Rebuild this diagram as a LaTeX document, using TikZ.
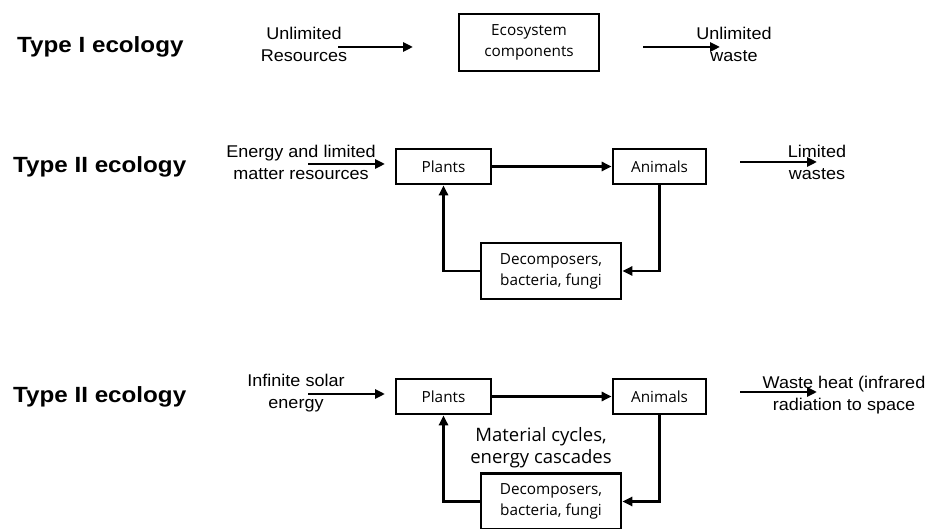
\documentclass[tikz,border=0pt]{standalone}
\usepackage{fontspec}
\usetikzlibrary{arrows.meta}
\newfontfamily\labelfont[FakeStretch=1.06]{Liberation Sans}
\newfontfamily\titlefont[FakeStretch=1.1]{Liberation Sans}
\newfontfamily\boxfont{Open Sans}
\begin{document}
\begin{tikzpicture}[x=1pt,y=-1pt,
  heading/.style={font=\titlefont\bfseries\fontsize{22}{26}\selectfont, anchor=base west, inner sep=0pt},
  flowlabel/.style={font=\labelfont\fontsize{17}{22}\selectfont, align=center, anchor=base, inner sep=0pt},
  boxtext/.style={font=\boxfont\fontsize{15.3}{21}\selectfont, align=center, inner sep=0pt},
  cyclenote/.style={font=\boxfont\fontsize{18.5}{22}\selectfont, align=center, anchor=base, inner sep=0pt},
  stage/.style={draw, line width=2.6pt, fill=white, boxtext},
  flow/.style={line width=2.6pt, -{Triangle[length=10pt,width=9pt]}}
]
\useasboundingbox (0,0) rectangle (930,529);
\clip (0,0) rectangle (930,529);

% ---------- Type I ----------
% (multi-line labels are placed by the baseline of their last line)
\node[heading] (t1) at (17,53) {Type I ecology};
\node[flowlabel] (in1) at (304,62) {Unlimited\\Resources};
\node[stage, minimum width=140pt, minimum height=57pt] (eco) at (529,42.5) {Ecosystem\\components};
\node[flowlabel] (out1) at (734,62) {Unlimited\\waste};
\coordinate (a1s) at (338,47);
\coordinate (a1e) at (413,47);
\coordinate (b1s) at (643,47);
\coordinate (b1e) at (720,47);
\draw[flow] (a1s) -- (a1e);
\draw[flow] (b1s) -- (b1e);

% ---------- Type II (matter) ----------
\node[heading] (t2) at (13,173) {Type II ecology};
\node[flowlabel] (in2) at (301,180) {Energy and limited\\matter resources};
\node[stage, minimum width=95pt, minimum height=35pt] (pl2) at (443.5,166.5) {Plants};
\node[stage, minimum width=93pt, minimum height=35pt] (an2) at (659.5,166.5) {Animals};
\node[stage, minimum width=140pt, minimum height=56pt] (de2) at (551,271) {Decomposers,\\bacteria, fungi};
\node[flowlabel] (out2) at (817,180) {Limited\\wastes};
\coordinate (a2s) at (308,164);
\coordinate (a2e) at (385,164);
\coordinate (b2s) at (740,162);
\coordinate (b2e) at (817,162);
\draw[flow] (a2s) -- (a2e);
\draw[flow] (pl2.east) -- (an2.west);
\draw[flow] (b2s) -- (b2e);
\draw[flow] (an2.south) |- (de2.east);
\draw[flow] (de2.west) -| (pl2.south);

% ---------- Type II (energy) ----------
\node[heading] (t3) at (13,403) {Type II ecology};
\node[flowlabel] (in3) at (296,409) {Infinite solar\\energy};
\node[stage, minimum width=95pt, minimum height=35pt] (pl3) at (443.5,396.5) {Plants};
\node[stage, minimum width=93pt, minimum height=35pt] (an3) at (659.5,396.5) {Animals};
\node[cyclenote] (cyc) at (541,464) {Material cycles,\\energy cascades};
\node[stage, minimum width=140pt, minimum height=56pt] (de3) at (551,501.5) {Decomposers,\\bacteria, fungi};
\node[flowlabel] (out3) at (844,411) {Waste heat (infrared\\radiation to space};
\coordinate (a3s) at (308,394);
\coordinate (a3e) at (385,394);
\coordinate (b3s) at (740,392);
\coordinate (b3e) at (817,392);
\draw[flow] (a3s) -- (a3e);
\draw[flow] (pl3.east) -- (an3.west);
\draw[flow] (b3s) -- (b3e);
\draw[flow] (an3.south) |- (de3.east);
\draw[flow] (de3.west) -| (pl3.south);
\end{tikzpicture}
\end{document}
